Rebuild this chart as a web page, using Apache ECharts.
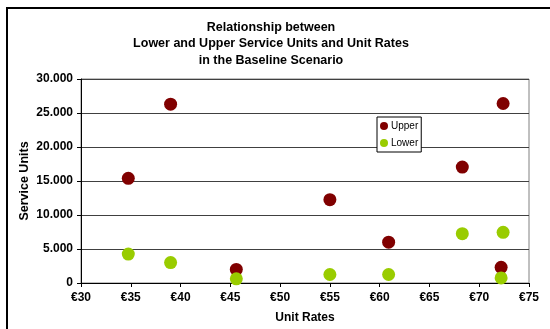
<!DOCTYPE html>
<html>
<head>
<meta charset="utf-8">
<script src="https://cdn.jsdelivr.net/npm/echarts@6/dist/echarts.min.js"></script>
<style>
  html, body { margin: 0; padding: 0; background: #fff; }
  #chart { width: 550px; height: 329px; }
</style>
</head>
<body>
<div id="chart"></div>
<script>
// Unit rates (EUR) for each scenario point
const unitRates = [34.75, 39.0, 45.6, 55.0, 60.9, 68.3, 72.4, 72.2];
// Upper and lower service units at those rates
const upperUnits = [15400, 26300, 2000, 12250, 6000, 17050, 26400, 2300];
const lowerUnits = [4250, 3000, 620, 1250, 1250, 7250, 7450, 750];
const seriesNames = ['Upper', 'Lower'];
const seriesColors = ['#800000', '#99cc00'];

const FONT = '"Liberation Sans", Arial, sans-serif';

function pairs(xs, ys) {
  return xs.map((x, i) => [x, ys[i]]);
}

function thousands(v) {
  return String(v).replace(/\B(?=(\d{3})+(?!\d))/g, '.');
}

const chart = echarts.init(document.getElementById('chart'), null, { renderer: 'canvas' });

const boldText = { fontFamily: FONT, fontSize: 12, fontWeight: 'bold', color: '#000' };

chart.setOption({
  backgroundColor: '#ffffff',
  animation: false,
  textStyle: { fontFamily: FONT },
  title: {
    text: 'Relationship between\nLower and Upper Service Units and Unit Rates\nin the Baseline Scenario',
    left: 271,
    top: 19,
    textAlign: 'center',
    padding: 0,
    textStyle: {
      fontFamily: FONT,
      fontSize: 12.5,
      fontWeight: 'bold',
      color: '#000',
      lineHeight: 16.5,
      align: 'center'
    }
  },
  graphic: [{
    type: 'rect',
    shape: { x: 7, y: 8, width: 600, height: 400 },
    style: { fill: 'none', stroke: '#000', lineWidth: 2 },
    silent: true,
    z: 100
  }],
  legend: {
    orient: 'vertical',
    left: 377,
    top: 117,
    padding: [3, 3, 3, 3],
    itemGap: 5,
    itemWidth: 8,
    itemHeight: 8,
    icon: 'circle',
    borderColor: '#000',
    borderWidth: 1,
    backgroundColor: '#fff',
    textStyle: { fontFamily: FONT, fontSize: 10, color: '#000', padding: [0, 0, 0, -2], lineHeight: 12 },
    data: seriesNames
  },
  grid: {
    left: 81,
    right: 21,
    top: 79,
    bottom: 43,
    show: true,
    borderColor: '#808080',
    borderWidth: 1,
    containLabel: false
  },
  xAxis: {
    type: 'value',
    min: 30,
    max: 75,
    interval: 5,
    name: 'Unit Rates',
    nameLocation: 'middle',
    nameGap: 29,
    nameMoveOverlap: false,
    nameTextStyle: boldText,
    axisLine: { show: true, onZero: false, lineStyle: { color: '#000', width: 1 } },
    axisTick: { show: true, inside: false, length: 4, lineStyle: { color: '#000' } },
    axisLabel: Object.assign({ margin: 9, formatter: v => '€' + v }, boldText),
    splitLine: { show: false }
  },
  yAxis: {
    type: 'value',
    min: 0,
    max: 30000,
    interval: 5000,
    name: 'Service Units',
    nameLocation: 'middle',
    nameGap: 50,
    nameRotate: 90,
    nameMoveOverlap: false,
    nameTextStyle: Object.assign({}, boldText, { fontSize: 12.5 }),
    axisLine: { show: true, onZero: false, lineStyle: { color: '#000', width: 1 } },
    axisTick: { show: true, inside: false, length: 4, lineStyle: { color: '#000' } },
    axisLabel: Object.assign({ margin: 8, formatter: v => thousands(v) }, boldText),
    splitLine: { show: true, lineStyle: { color: '#404040', width: 1 } }
  },
  series: [
    {
      name: seriesNames[0],
      type: 'scatter',
      symbol: 'circle',
      symbolSize: 13,
      itemStyle: { color: seriesColors[0], opacity: 1 },
      data: pairs(unitRates, upperUnits),
      z: 3
    },
    {
      name: seriesNames[1],
      type: 'scatter',
      symbol: 'circle',
      symbolSize: 13,
      itemStyle: { color: seriesColors[1], opacity: 1 },
      data: pairs(unitRates, lowerUnits),
      z: 4
    }
  ]
});
</script>
</body>
</html>
